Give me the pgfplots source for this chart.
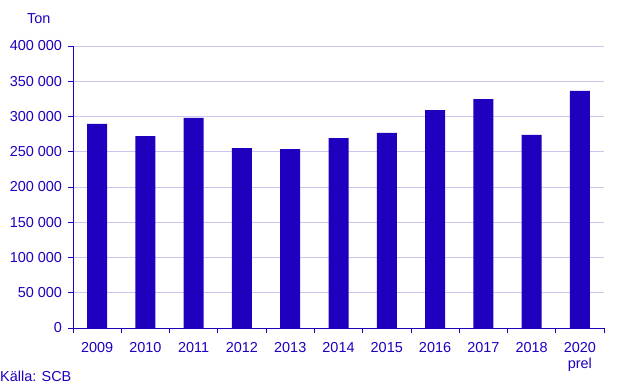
\documentclass[border=0pt]{standalone}
\usepackage{pgfplots}
\pgfplotsset{compat=1.18}
\usepackage{fontspec}
\setmainfont{Liberation Sans}
\definecolor{scb}{RGB}{30,0,190}
\definecolor{gridc}{RGB}{200,200,238}
\begin{document}
\fontsize{14.5}{16}\selectfont
\begin{tikzpicture}[x=1bp,y=1bp]
\useasboundingbox (0,0) rectangle (644,386);
\node[anchor=base west, text=scb, inner sep=0pt] at (27,363) {Ton};
\node[anchor=base west, text=scb, inner sep=0pt] at (0,5) {Källa: SCB};
\begin{axis}[
  at={(73bp,58bp)}, anchor=south west, scale only axis,
  width=531bp, height=282bp,
  xmin=-0.5, xmax=10.5, ymin=0, ymax=400000,
  axis x line*=bottom, axis y line*=left,
  axis line style={scb, line width=0.8pt, -},
  tick align=outside,
  ytick={0,50000,100000,150000,200000,250000,300000,350000,400000},
  yticklabels={0,50 000,100 000,150 000,200 000,250 000,300 000,350 000,400 000},
  scaled y ticks=false,
  ymajorgrids, major grid style={gridc, line width=0.6pt},
  xtick={0,1,2,3,4,5,6,7,8,9,10},
  xticklabels={2009,2010,2011,2012,2013,2014,2015,2016,2017,2018,{2020\\prel}},
  major x tick style={draw=none},
  minor xtick={-0.5,0.5,1.5,2.5,3.5,4.5,5.5,6.5,7.5,8.5,9.5,10.5},
  minor x tick style={scb, line width=0.8pt},
  minor tick length=5bp, major tick length=5bp,
  major y tick style={scb, line width=0.8pt},
  tick label style={text=scb},
  xticklabel style={align=center, yshift=-4bp},
  yticklabel style={xshift=-1bp},
  clip=false,
]
\addplot[ybar, fill=scb, draw=none, bar width=20bp] coordinates {
  (0,289400) (1,272300) (2,297900) (3,255300) (4,253900) (5,269500)
  (6,276600) (7,309200) (8,324800) (9,273800) (10,336200)
};
\end{axis}
\end{tikzpicture}
\end{document}
